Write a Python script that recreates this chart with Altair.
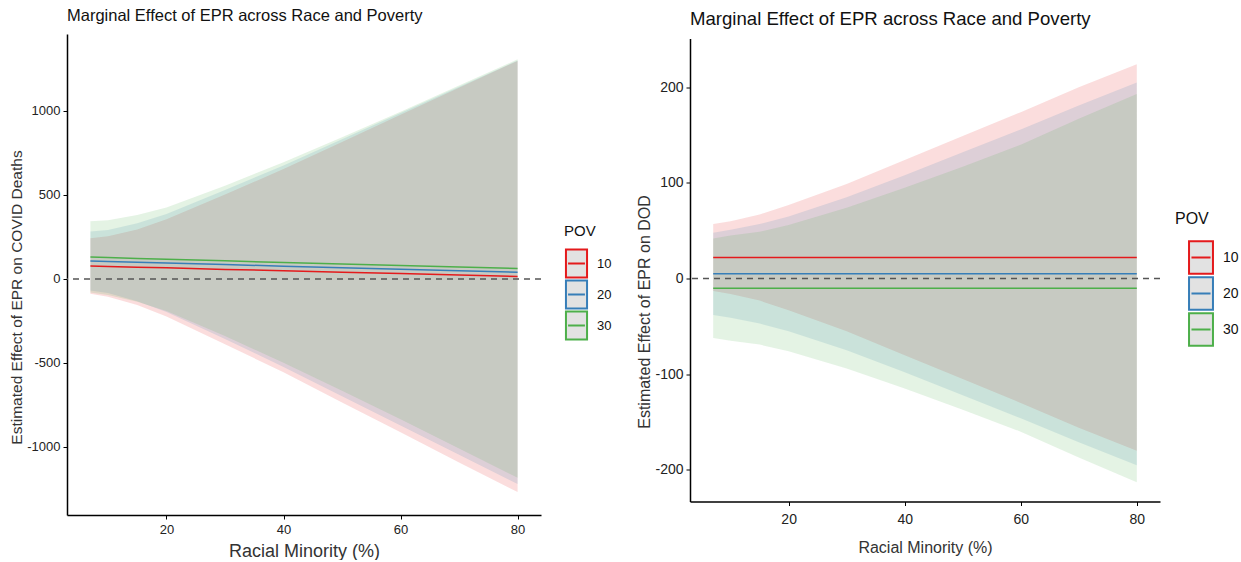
import altair as alt
import pandas as pd

# ---- data ----
x_vals = [7, 10, 15, 20, 30, 40, 50, 60, 70, 80]
pov_levels = ["10", "20", "30"]

# Left panel: COVID deaths
left_center = {
    "10": [77, 74, 70, 66, 57, 49, 40, 32, 23, 15],
    "20": [107, 104, 99, 95, 86, 76, 67, 58, 49, 40],
    "30": [131, 127, 122, 117, 108, 98, 89, 80, 71, 62],
}
left_lower = {
    "10": [-88, -106, -155, -224, -388, -556, -735, -913, -1092, -1268],
    "20": [-68, -84, -133, -197, -357, -524, -698, -872, -1046, -1220],
    "30": [-81, -95, -136, -191, -339, -499, -666, -835, -1009, -1183],
}
left_upper = {
    "10": [242, 254, 295, 356, 502, 654, 815, 977, 1138, 1298],
    "20": [282, 292, 331, 387, 529, 676, 832, 988, 1144, 1300],
    "30": [343, 349, 380, 425, 555, 695, 844, 995, 1151, 1307],
}

# Right panel: DOD
right_center = {
    "10": [22, 22, 22, 22, 22, 22, 22, 22, 22, 22],
    "20": [5, 5, 5, 5, 5, 5, 5, 5, 5, 5],
    "30": [-10, -10, -10, -10, -10, -10, -10, -10, -10, -10],
}
right_lower = {
    "10": [-13, -16, -23, -33, -55, -80, -105, -130, -156, -180],
    "20": [-38, -41, -47, -55, -75, -98, -122, -146, -171, -195],
    "30": [-62, -65, -69, -76, -94, -115, -137, -160, -187, -213],
}
right_upper = {
    "10": [57, 60, 67, 77, 99, 124, 149, 174, 200, 224],
    "20": [48, 51, 57, 65, 85, 108, 132, 156, 181, 205],
    "30": [42, 45, 49, 56, 74, 95, 117, 140, 167, 193],
}

colors = ["#E41A1C", "#377EB8", "#4DAF4A"]
FONT = "Liberation Sans"
TITLE = "Marginal Effect of EPR across Race and Poverty"


def build_df(center, lower, upper):
    rows = []
    for p in pov_levels:
        for i, xv in enumerate(x_vals):
            rows.append({"x": xv, "POV": p, "band": p, "fit": center[p][i],
                         "lo": lower[p][i], "hi": upper[p][i]})
    return pd.DataFrame(rows)


def panel(df, ydom, yticks, ytitle, w, h, fs_title, fs_lab, x_lpad, x_tpad,
          fs_xt, fs_yt, ytitle_y, fs_legt, fs_legl, key_size, key_path,
          leg_x, leg_y, leg_tpad, sym_off, lab_off, row_pad):
    xsc = alt.Scale(domain=[3, 84], nice=False, zero=False)
    ysc = alt.Scale(domain=ydom, nice=False, zero=False)
    xax = alt.Axis(values=[20, 40, 60, 80], title="Racial Minority (%)", grid=False,
                   domainColor="black", domainWidth=1.5, tickColor="black", tickSize=4,
                   labelColor="#222", labelFontSize=fs_lab, labelFont=FONT,
                   titleFont=FONT, titleFontSize=fs_xt, titleFontWeight="normal",
                   titleColor="#333", titlePadding=x_tpad, labelPadding=x_lpad)
    yax = alt.Axis(values=yticks, title=ytitle, grid=False, labelExpr="'' + datum.value",
                   domainColor="black", domainWidth=1.5, tickColor="black", tickSize=4,
                   labelColor="#222", labelFontSize=fs_lab, labelFont=FONT,
                   titleFont=FONT, titleFontSize=fs_yt, titleFontWeight="normal",
                   titleColor="#333", titlePadding=2, labelPadding=3, titleY=ytitle_y)
    leg = alt.Legend(title="POV", symbolType=key_path, symbolSize=key_size,
                     symbolStrokeWidth=2, symbolFillColor="#E2E2E2",
                     symbolOffset=sym_off,
                     titleFont=FONT, titleFontSize=fs_legt, titleFontWeight="normal",
                     titleColor="#111", labelFont=FONT, labelFontSize=fs_legl,
                     labelColor="#111", rowPadding=row_pad, labelOffset=lab_off,
                     titlePadding=leg_tpad, orient="none", legendX=leg_x, legendY=leg_y)
    base = alt.Chart(df)
    area = base.mark_area(fillOpacity=0.15).encode(
        x=alt.X("x:Q", scale=xsc, axis=xax),
        y=alt.Y("lo:Q", scale=ysc, axis=yax),
        y2="hi:Q",
        fill=alt.Fill("band:N", scale=alt.Scale(range=colors), legend=None),
    )
    zero = alt.Chart(pd.DataFrame({"y": [0]})).mark_rule(
        color="#555", strokeDash=[6, 5], strokeWidth=1.5).encode(y=alt.Y("y:Q", scale=ysc))
    line = base.mark_line(strokeWidth=1.5).encode(
        x=alt.X("x:Q", scale=xsc),
        y=alt.Y("fit:Q", scale=ysc),
        stroke=alt.Stroke("POV:N", scale=alt.Scale(domain=pov_levels, range=colors),
                          legend=leg),
    )
    return alt.layer(area, zero, line).properties(
        width=w, height=h,
        title=alt.Title(TITLE, anchor="start", frame="group", font=FONT,
                        fontSize=fs_title, fontWeight="normal", color="#111", offset=10),
    )


left_df = build_df(left_center, left_lower, left_upper)
right_df = build_df(right_center, right_lower, right_upper)

left = panel(left_df, [-1405, 1458], [-1000, -500, 0, 500, 1000],
             "Estimated Effect of EPR on COVID Deaths", 474, 481,
             16.5, 13, 4, 6, 18, 15.5, 263, 15, 13, 493,
             "M-0.95,-1.25H0.95V1.25H-0.95Z M-0.76,0H0.76",
             497, 190, 12, 0, 8, -10)
right = panel(right_df, [-233, 251], [-200, -100, 0, 100, 200],
              "Estimated Effect of EPR on DOD", 470, 463,
              18.6, 14, 7, 13, 16, 16, 273, 16, 14, 740,
              "M-0.88,-1.2H0.88V1.2H-0.88Z M-0.7,0H0.7",
              485, 172, 16, 11, 7, -11)

chart = alt.hconcat(left, right, spacing=24, center=True).resolve_scale(
    fill="independent", stroke="independent").resolve_legend(
    stroke="independent").configure(
    background="white", padding={"left": 9, "top": 7, "right": 0, "bottom": 0}
).configure_view(strokeOpacity=0)

chart.save("out.html", embed_options={"renderer": "svg", "actions": False})
